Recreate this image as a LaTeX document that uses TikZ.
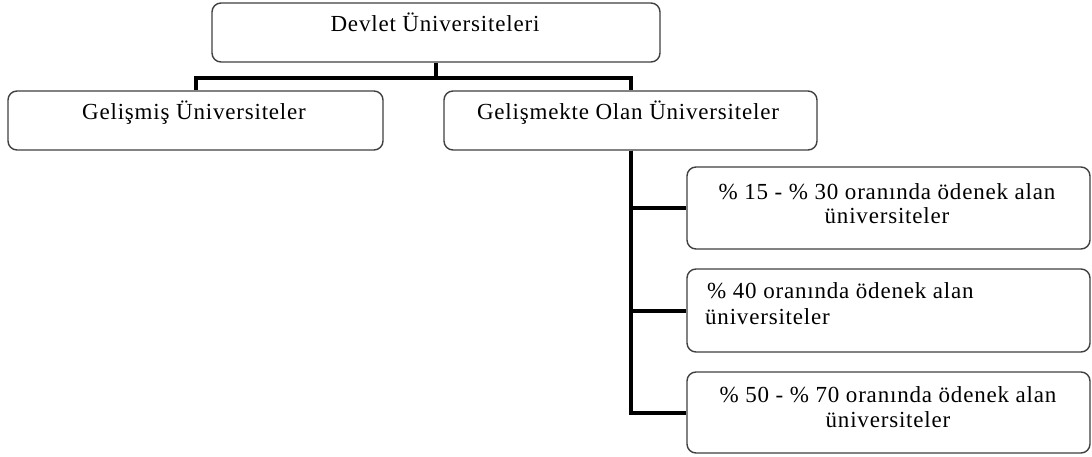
\documentclass[tikz,border=0pt]{standalone}
\usepackage{fontspec}
\setmainfont{Liberation Serif}[LetterSpace=3.5]
\begin{document}
\begin{tikzpicture}[x=1pt,y=-1pt,
  box/.style={draw=black!75, line width=1.4pt, rounded corners=9pt, fill=white, inner sep=0pt},
  conn/.style={draw=black, line width=4pt},
  lbl/.style={font=\fontsize{23}{26}\selectfont, inner sep=0pt, anchor=base}]
\useasboundingbox (0,0) rectangle (1092,457);
% boxes
\node[box, minimum width=448pt, minimum height=59pt] (top) at (436,32.5) {};
\node[box, minimum width=375pt, minimum height=59pt] (left) at (195.5,120.5) {};
\node[box, minimum width=373pt, minimum height=59pt] (mid) at (630.5,120.5) {};
\node[box, minimum width=403pt, minimum height=82pt] (b1) at (888.5,208) {};
\node[box, minimum width=403pt, minimum height=83pt] (b2) at (888.5,310.5) {};
\node[box, minimum width=403pt, minimum height=81pt] (b3) at (888.5,412.5) {};
% labels
\node[lbl] (ttop) at (435,32) {Devlet Üniversiteleri};
\node[lbl] (tleft) at (194,120) {Gelişmiş Üniversiteler};
\node[lbl] (tmid) at (628,120) {Gelişmekte Olan Üniversiteler};
\node[lbl] (t1a) at (887,200) {\% 15 - \% 30 oranında ödenek alan};
\node[lbl] (t1b) at (887,224) {üniversiteler};
\node[lbl, anchor=base west] (t2a) at (707,298) {\% 40 oranında ödenek alan};
\node[lbl, anchor=base west] (t2b) at (705,324) {üniversiteler};
\node[lbl] (t3a) at (888,402) {\% 50 - \% 70 oranında ödenek alan};
\node[lbl] (t3b) at (888,427) {üniversiteler};
% connectors
\draw[conn] (top.south) -- ++(0,15) coordinate (j);
\draw[conn] (left.north) |- (j) -| (mid.north);
\draw[conn] (mid.south) |- (b1.west);
\draw[conn] (mid.south) |- (b2.west);
\draw[conn] (mid.south) |- (b3.west);
\end{tikzpicture}
\end{document}
